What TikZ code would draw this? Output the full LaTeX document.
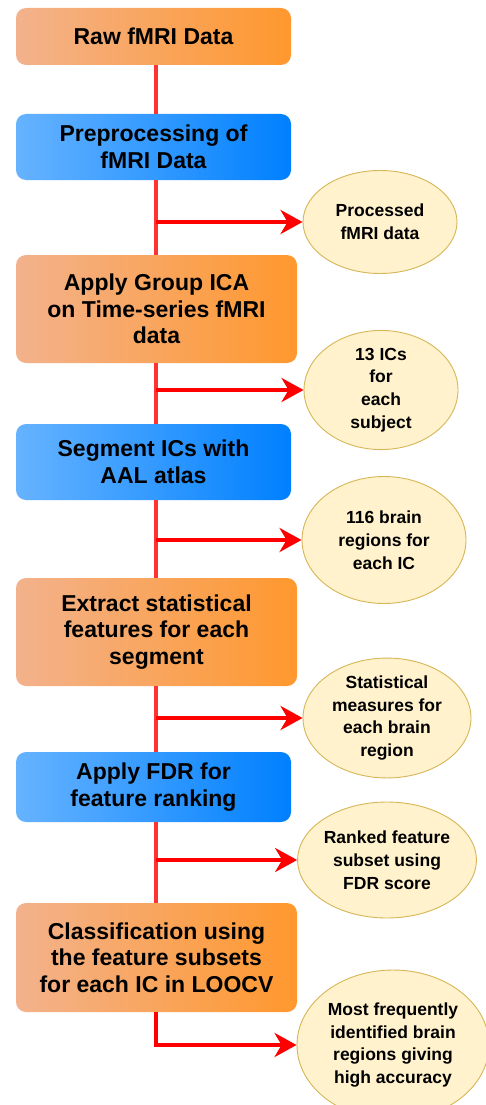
\documentclass[tikz,border=0pt]{standalone}
\usepackage{fontspec}
\setmainfont{Liberation Sans}
\usetikzlibrary{shapes.geometric,arrows.meta}
\definecolor{orL}{HTML}{F3B28C}
\definecolor{orR}{HTML}{FF982E}
\definecolor{blL}{HTML}{66B3FF}
\definecolor{blR}{HTML}{0080FF}
\definecolor{elF}{HTML}{FFF2CC}
\definecolor{elD}{HTML}{D6B656}
\definecolor{spineC}{HTML}{FF3333}
\definecolor{arrC}{HTML}{FF0000}
\tikzset{
  box/.style={rectangle, rounded corners=10pt, inner sep=0pt, align=center,
    font=\bfseries\fontsize{23}{26.7}\selectfont},
  obox/.style={box, left color=orL, right color=orR},
  bbox/.style={box, left color=blL, right color=blR},
  ell/.style={ellipse, draw=elD, line width=0.9pt, fill=elF, inner sep=0pt, align=center,
    font=\bfseries\fontsize{17.5}{22.8}\selectfont},
  spine/.style={draw=spineC, line width=4pt},
  arr/.style={draw=arrC, line width=4pt, -{Stealth[length=22pt,width=24pt,inset=7pt]}},
}
\begin{document}
\begin{tikzpicture}[x=1pt,y=-1pt]
\useasboundingbox (0,0) rectangle (486,1105);
\clip (0,0) rectangle (486,1105);
\coordinate (sp) at (156,0);
% boxes
\node[obox, minimum width=275pt, minimum height=57pt] (b1) at (153.5,36.5) {Raw fMRI Data};
\node[bbox, minimum width=275pt, minimum height=66pt] (b2) at (153.5,147) {Preprocessing of\\fMRI Data};
\node[obox, minimum width=281pt, minimum height=108pt] (b3) at (156.5,309) {Apply Group ICA\\on Time-series fMRI\\data};
\node[bbox, minimum width=275pt, minimum height=76pt] (b4) at (153.5,462) {Segment ICs with\\AAL atlas};
\node[obox, minimum width=281pt, minimum height=108pt] (b5) at (156.5,632) {Extract statistical\\features for each\\segment};
\node[bbox, minimum width=275pt, minimum height=70pt] (b6) at (153.5,787) {Apply FDR for\\feature ranking};
\node[obox, minimum width=281pt, minimum height=109pt] (b7) at (156.5,957.5) {Classification using\\the feature subsets\\for each IC in LOOCV};
% ellipses
\node[ell, minimum width=154pt, minimum height=103pt] (e1) at (380,222) {Processed\\fMRI data};
\node[ell, minimum width=154pt, minimum height=103pt] (e2) at (381,390) {13 ICs\\for\\each\\subject};
\node[ell, minimum width=164pt, minimum height=127pt] (e3) at (384,540) {116 brain\\regions for\\each IC};
\node[ell, minimum width=168pt, minimum height=117pt] (e4) at (387,718) {Statistical\\measures for\\each brain\\region};
\node[ell, minimum width=168pt, minimum height=116pt] (e5) at (387,860) {Ranked feature\\subset using\\FDR score};
\node[ell, minimum width=192pt, minimum height=150pt] (e6) at (393,1045) {Most frequently\\identified brain\\regions giving\\high accuracy};
% spine
\path[spine] (b1.south -| sp) -- (b2.north -| sp);
\path[spine] (b2.south -| sp) -- (b3.north -| sp);
\path[spine] (b3.south -| sp) -- (b4.north -| sp);
\path[spine] (b4.south -| sp) -- (b5.north -| sp);
\path[spine] (b5.south -| sp) -- (b6.north -| sp);
\path[spine] (b6.south -| sp) -- (b7.north -| sp);
% branches
\path[arr] (e1.west -| sp) -- (e1.west);
\path[arr] (e2.west -| sp) -- (e2.west);
\path[arr] (e3.west -| sp) -- (e3.west);
\path[arr] (e4.west -| sp) -- (e4.west);
\path[arr] (e5.west -| sp) -- (e5.west);
\path[arr] (b7.south -| sp) |- (e6.west);
\end{tikzpicture}
\end{document}
